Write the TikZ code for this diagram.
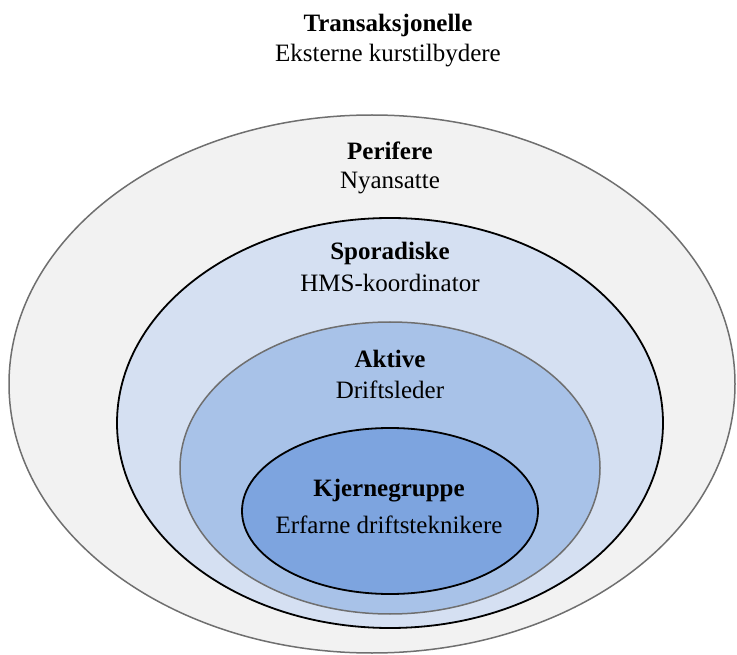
\documentclass[tikz,border=0pt]{standalone}
\usepackage{fontspec}
\setmainfont{Liberation Serif}
\definecolor{ringgray}{HTML}{F2F2F2}
\definecolor{ringpale}{HTML}{D5E0F2}
\definecolor{ringmid}{HTML}{A8C2E8}
\definecolor{ringcore}{HTML}{7DA4DF}
\definecolor{edgegray}{HTML}{6F6F6F}
\begin{document}
\begin{tikzpicture}[x=1pt,y=-1pt,
  title/.style={font=\fontsize{25}{28}\selectfont\bfseries, inner sep=0pt, anchor=base},
  sub/.style={font=\fontsize{25}{28}\selectfont, inner sep=0pt, anchor=base}]
  \useasboundingbox (0,0) rectangle (737,655);
  % nested rings, outermost first
  \draw[draw=edgegray, line width=1.5pt, fill=ringgray] (372,384) ellipse [x radius=363, y radius=269];
  \draw[draw=black, line width=1.8pt, fill=ringpale] (390,423) ellipse [x radius=273, y radius=205];
  \draw[draw=edgegray, line width=1.5pt, fill=ringmid] (390,468) ellipse [x radius=210, y radius=146];
  \draw[draw=black, line width=1.8pt, fill=ringcore] (390,511) ellipse [x radius=148, y radius=83];
  % labels (placed by baseline)
  \node[title] (t1) at (388,31.5) {Transaksjonelle};
  \node[sub]   (s1) at (388,61.5) {Eksterne kurstilbydere};
  \node[title] (t2) at (390,160) {Perifere};
  \node[sub]   (s2) at (390,189) {Nyansatte};
  \node[title] (t3) at (390,259.5) {Sporadiske};
  \node[sub]   (s3) at (390,291.5) {HMS-koordinator};
  \node[title] (t4) at (390,367) {Aktive};
  \node[sub]   (s4) at (390,398) {Driftsleder};
  \node[title] (t5) at (389,496.5) {Kjernegruppe};
  \node[sub]   (s5) at (389,533) {Erfarne driftsteknikere};
\end{tikzpicture}
\end{document}
